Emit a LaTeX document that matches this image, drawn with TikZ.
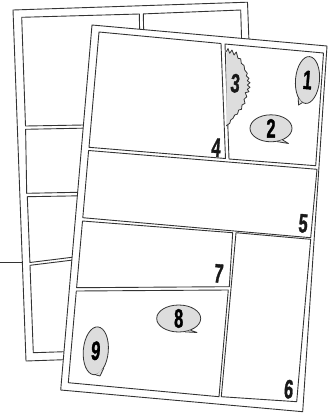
\documentclass[tikz,border=0pt]{standalone}
\usepackage{fontspec}
\newfontfamily\numfont{Liberation Sans}[BoldFeatures={FakeBold=1.6}]
\usetikzlibrary{shapes.geometric}
\definecolor{ink}{HTML}{333333}
\definecolor{bub}{HTML}{DDDDDD}
\newcommand{\dg}[1]{\scalebox{0.62}[1]{\numfont\bfseries\fontsize{26.5}{26.5}\selectfont #1}}
\begin{document}
\begin{tikzpicture}[x=1pt,y=-1pt,line join=round,
  frame/.style={draw=ink,line width=0.9pt,fill=white},
  num/.style={inner sep=0pt,text=black!90,rotate=-5},
  bubble/.style={ellipse,draw=ink,line width=0.8pt,fill=bub,inner sep=0pt,rotate=-5},
  tailfill/.style={fill=bub},
  tailline/.style={draw=ink,line width=0.8pt},
  leader/.style={draw=ink,line width=0.9pt}]
\useasboundingbox (0,0) rectangle (328,413);
% ---------------- back page ----------------
\draw[frame] (13,10) -- (247.5,2.2) -- (260.5,353) -- (26,361) -- cycle;
\draw[frame] (21.7,17.3) -- (139.3,14) -- (141.5,124) -- (25.5,126) -- cycle;
\draw[frame] (143.3,13.9) -- (240.7,10) -- (244,120) -- (145.5,124) -- cycle;
\draw[frame] (25.6,129.3) -- (244,125) -- (244,189) -- (26.7,193.3) -- cycle;
\draw[frame] (27.3,196.7) -- (244,193) -- (244,236) -- (29.9,262.5) -- cycle;
\draw[frame] (30,265.3) -- (244,239) -- (244,346) -- (33.3,352.7) -- cycle;
\coordinate (lstart) at (0,262);
\coordinate (lend) at (22.6,262);
\draw[leader] (lstart) -- (lend);
% ---------------- front page ----------------
\draw[frame] (92,25) -- (327,46) -- (302.7,411.7) -- (60.7,390) -- cycle;
% panel 4
\draw[frame] (99,32) -- (221,43.5) -- (225.5,158.5) -- (89,147.3) -- cycle;
% panel 1/2/3
\draw[frame] (225,44) -- (323.5,53) -- (315.7,165.7) -- (229,159) -- cycle;
% panel 5
\draw[frame] (88.6,150.5) -- (317,169.3) -- (310.7,237.7) -- (82.8,217.7) -- cycle;
% panel 7
\draw[frame] (82.5,221) -- (232.7,232.7) -- (229.3,286.7) -- (76.6,287.7) -- cycle;
% panel 8/9
\draw[frame] (76.3,291) -- (228.3,290) -- (219,396.7) -- (68.3,382.7) -- cycle;
% panel 6
\draw[frame] (236,232.7) -- (310.7,239.3) -- (296.7,401.7) -- (221.3,396.7) -- cycle;
% burst 3
\filldraw[draw=ink,line width=0.8pt,fill=bub]
 (226.3,51.7) -- (228,48.5) -- (229.7,53.3) -- (232,50) -- (234,55) -- (236.3,52)
 -- (238,58.3) -- (240.7,58.8) -- (241.3,63.3) -- (244,65.5) -- (244.7,70) -- (247.3,73.3)
 -- (246.3,76) -- (249,78.3) -- (247.3,80.7) -- (250,82.7) -- (247.3,85) -- (250,87.3)
 -- (247.3,89.3) -- (249,91.7) -- (245.3,92.7) -- (246.8,96.7) -- (244,99.3) -- (245,103.3)
 -- (242,105) -- (241.5,109.3) -- (238.7,110) -- (237.5,114) -- (234.7,115) -- (233,118.3)
 -- (230.7,120) -- (229.7,123.3) -- (227.3,125) -- (226.3,126);
\node[num] (n3) at (235.3,83.3) {\dg{3}};
% bubbles
\node[bubble,minimum width=24pt,minimum height=47pt] (b1) at (307.5,80) {\dg{1}};
\coordinate (t1) at (298.5,105);
\fill[tailfill] (b1.248) -- (t1) -- (b1.262) -- cycle;
\draw[tailline] (b1.248) -- (t1) -- (b1.262);
\node[bubble,minimum width=42pt,minimum height=27pt,rotate=5] (b2) at (271,128.3) {\dg{2}};
\coordinate (t2) at (288.5,143.5);
\fill[tailfill] (b2.295) -- (t2) -- (b2.315) -- cycle;
\draw[tailline] (b2.295) -- (t2) -- (b2.315);
\node[bubble,minimum width=44pt,minimum height=27pt,rotate=5] (b8) at (178.7,318.5) {\dg{8}};
\coordinate (t8) at (197,332.5);
\fill[tailfill] (b8.295) -- (t8) -- (b8.315) -- cycle;
\draw[tailline] (b8.295) -- (t8) -- (b8.315);
\node[bubble,minimum width=25pt,minimum height=48pt] (b9) at (95.8,350.8) {\dg{9}};
\coordinate (t9) at (100,376);
\fill[tailfill] (b9.275) -- (t9) -- (b9.300) -- cycle;
\draw[tailline] (b9.275) -- (t9) -- (b9.300);
% panel numbers
\node[num] (n4) at (216.2,147.5) {\dg{4}};
\node[num] (n5) at (303.2,223.5) {\dg{5}};
\node[num] (n6) at (288.8,389.2) {\dg{6}};
\node[num] (n7) at (218.7,273.5) {\dg{7}};
\end{tikzpicture}
\end{document}
